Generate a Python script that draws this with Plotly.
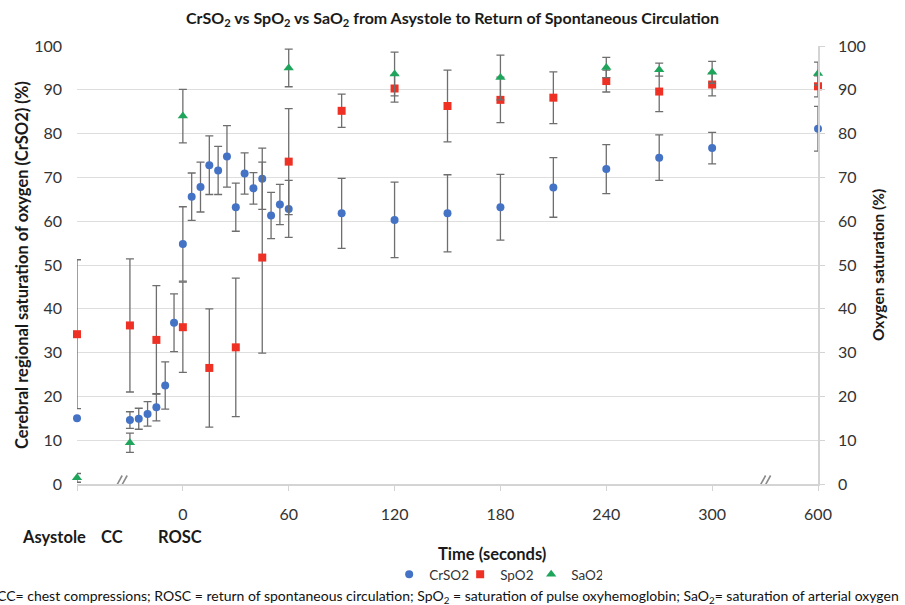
import plotly.graph_objects as go

# ---------------- data ----------------
# x positions: Asystole = -60, chest compressions -30..-5, ROSC = 0, then seconds; "600" drawn at 360
cr_x = [-60, -30, -25, -20, -15, -10, -5, 0, 5, 10, 15, 20, 25, 30, 35, 40, 45, 50, 55, 60,
        90, 120, 150, 180, 210, 240, 270, 300, 360]
cr_y = [15.0, 14.6, 14.9, 16.0, 17.5, 22.5, 36.8, 54.8, 65.6, 67.8, 72.8, 71.6, 74.8, 63.2, 70.9,
        67.5, 69.7, 61.3, 63.8, 62.8, 61.8, 60.3, 61.8, 63.2, 67.7, 71.9, 74.5, 76.7, 81.1]
cr_err = [0.0, 1.9, 2.4, 2.8, 3.1, 5.4, 6.6, 8.5, 5.4, 5.7, 6.7, 5.5, 7.0, 5.5, 4.7,
          3.6, 7.0, 5.3, 4.6, 6.5, 8.0, 8.6, 8.8, 7.5, 6.8, 5.6, 5.2, 3.6, 5.1]

sp_x = [-60, -30, -15, 0, 15, 30, 45, 60, 90, 120, 150, 180, 210, 240, 270, 300, 360]
sp_y = [34.2, 36.2, 32.9, 35.8, 26.5, 31.2, 51.7, 73.6, 85.2, 90.3, 86.3, 87.7, 88.2, 92.0, 89.6, 91.2, 90.8]
sp_err = [17.0, 15.2, 12.4, 10.3, 13.5, 15.8, 21.8, 12.1, 3.8, 3.1, 8.2, 5.2, 5.9, 2.5, 4.6, 2.6, 2.4]

sa_x = [-60, -30, 0, 60, 120, 180, 240, 270, 300, 360]
sa_y = [1.4, 9.4, 84.0, 95.0, 93.6, 92.8, 95.1, 94.6, 94.0, 93.7]
sa_err = [1.0, 2.2, 6.1, 4.3, 5.0, 5.1, 2.3, 1.5, 2.5, 2.6]

tick_vals = [-60, 0, 60, 120, 180, 240, 300, 360]
tick_text = ["", "0", "60", "120", "180", "240", "300", "600"]
y_ticks = list(range(0, 101, 10))

phase_labels = ["Asystole", "CC", "ROSC"]
phase_x = [-60, -30, 0]
phase_shift = [-23, -18, -3]

break_x = [-35.8, 328.9]

FONT = "Lato"
ERR_COLOR = "#6e6e6e"

fig = go.Figure()

def add_series(name, xs, ys, errs, symbol, color, size):
    fig.add_trace(go.Scatter(
        x=xs, y=ys, name=name, mode="markers",
        marker=dict(symbol=symbol, color=color, size=size, line=dict(width=0)),
        error_y=dict(type="data", array=errs, visible=True, color=ERR_COLOR,
                     thickness=1.3, width=4),
        cliponaxis=False,
    ))

add_series("CrSO2", cr_x, cr_y, cr_err, "circle", "#4472C4", 8)
add_series("SpO2", sp_x, sp_y, sp_err, "square", "#EE3124", 8)
add_series("SaO2", sa_x, sa_y, sa_err, "triangle-up", "#1FA55B", 9)

# invisible trace to activate right axis
fig.add_trace(go.Scatter(x=[cr_x[0]], y=[cr_y[0]], yaxis="y2", mode="markers",
                         marker=dict(opacity=0), showlegend=False, hoverinfo="skip"))

# axis break marks
shapes = []
for bx in break_x:
    for off in (-5, 0):
        shapes.append(dict(type="line", xref="x", yref="y", xsizemode="pixel", ysizemode="pixel",
                           xanchor=bx, yanchor=0, x0=off - 2.5, x1=off + 7.5, y0=-9.5, y1=8.5,
                           line=dict(color="#8a8a8a", width=1.6)))

annotations = []
for lab, px, sh in zip(phase_labels, phase_x, phase_shift):
    annotations.append(dict(text=f"<b>{lab}</b>", x=px, xref="x", y=0, yref="paper",
                            xshift=sh, yshift=-53, showarrow=False, xanchor="center", yanchor="middle",
                            font=dict(family=FONT, size=16.5, color="#1a1a1a")))

annotations += [
    dict(text="<b>Time (seconds)</b>", x=0.56, xref="paper", y=0, yref="paper", yshift=-70,
         showarrow=False, xanchor="center", yanchor="middle",
         font=dict(family=FONT, size=16.5, color="#1a1a1a")),
    dict(text="<b>Cerebral regional saturation of oxygen (CrSO2) (%)</b>", x=0, xref="paper",
         y=0.5, yref="paper", xshift=-55, textangle=-90, showarrow=False,
         xanchor="center", yanchor="middle", font=dict(family=FONT, size=16.5, color="#1a1a1a")),
    dict(text="<b>Oxygen saturation (%)</b>", x=1, xref="paper", y=0.5, yref="paper",
         xshift=60, textangle=-90, showarrow=False, xanchor="center", yanchor="middle",
         font=dict(family=FONT, size=15.5, color="#1a1a1a")),
    dict(text="CC= chest compressions; ROSC = return of spontaneous circulation; SpO<sub>2</sub> = "
              "saturation of pulse oxyhemoglobin; SaO<sub>2</sub>= saturation of arterial oxygen",
         x=0.5, xref="paper", y=0, yref="paper", yshift=-112, showarrow=False,
         xanchor="center", yanchor="middle", font=dict(family=FONT, size=14, color="#111111")),
]

fig.update_layout(
    width=905, height=605,
    margin=dict(l=77, r=87, t=46, b=121),
    paper_bgcolor="white", plot_bgcolor="white",
    font=dict(family=FONT, size=16, color="#404040"),
    title=dict(text="<b>CrSO<sub>2</sub> vs SpO<sub>2</sub> vs SaO<sub>2</sub> from Asystole to "
                    "Return of Spontaneous Circulation</b>",
               x=0.5, xref="container", xanchor="center", y=0.97, yanchor="middle",
               font=dict(family=FONT, size=16, color="#1a1a1a")),
    xaxis=dict(range=[-60, 360], tickmode="array", tickvals=tick_vals, ticktext=tick_text,
               showgrid=False, zeroline=False, showline=True, linecolor="#d4d4d4", linewidth=1.5,
               ticks="outside", ticklen=5, tickcolor="#d4d4d4", tickwidth=1,
               ticklabelstandoff=10, tickfont=dict(family=FONT, size=16, color="#333333")),
    yaxis=dict(range=[0, 100], tickvals=y_ticks, showgrid=True, gridcolor="#dedede", gridwidth=1,
               zeroline=False, showline=False, ticks="", ticklabelstandoff=14,
               tickfont=dict(family=FONT, size=16, color="#333333")),
    yaxis2=dict(range=[0, 100], tickvals=y_ticks, overlaying="y", side="right", showgrid=False,
                zeroline=False, showline=True, linecolor="#d4d4d4", linewidth=1.5,
                ticks="outside", ticklen=5, tickcolor="#d4d4d4", ticklabelstandoff=10,
                tickfont=dict(family=FONT, size=16, color="#333333")),
    legend=dict(orientation="h", x=0.565, xref="paper", xanchor="center",
                y=-(575 - 484.5) / (484.5 - 46.5), yref="paper",
                yanchor="middle", itemwidth=30, entrywidth=26, entrywidthmode="pixels",
                font=dict(family=FONT, size=13.5, color="#333333"), tracegroupgap=0),
    shapes=shapes,
    annotations=annotations,
    showlegend=True,
)

fig.write_html("out.html")
